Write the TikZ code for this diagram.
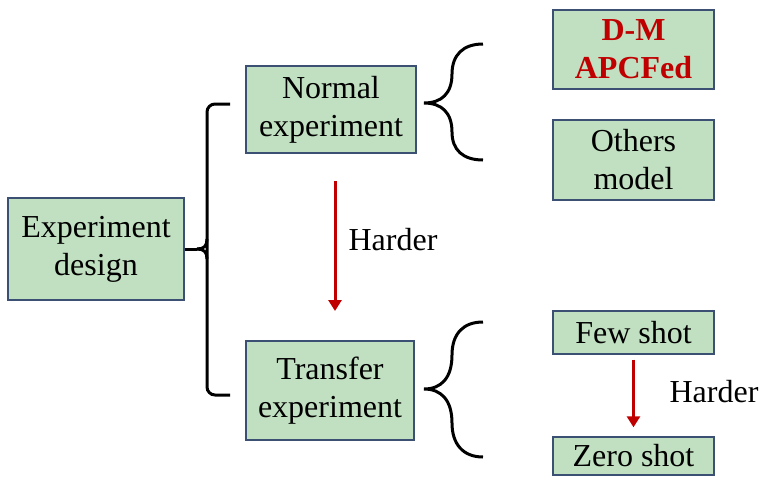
\documentclass[tikz,border=0pt]{standalone}
\usepackage{fontspec}
\setmainfont{Liberation Serif}
\usetikzlibrary{arrows.meta}
\definecolor{boxfill}{RGB}{193,223,193}
\definecolor{boxline}{RGB}{60,80,115}
\definecolor{darkred}{RGB}{192,0,0}
\begin{document}
\begin{tikzpicture}[x=1pt,y=-1pt,
  box/.style={draw=boxline, line width=1.4pt, fill=boxfill, inner sep=0pt, align=center,
              font=\fontsize{32}{38}\selectfont},
  brk/.style={line width=3pt},
  harder/.style={draw=darkred, line width=3pt, -{Triangle[width=13pt,length=11pt]}},
  lbl/.style={font=\fontsize{32}{38}\selectfont, inner sep=0pt}]
\useasboundingbox (0,0) rectangle (780,496);

% boxes
\node[box, minimum width=176pt, minimum height=102pt] (design) at (96,249) {Experiment\\design};
\node[box, minimum width=170pt, minimum height=87pt] (normal) at (331,109.5) {Normal\\experiment};
\node[box, minimum width=168pt, minimum height=99pt] (transfer) at (330,390.5) {Transfer\\experiment};
\node[box, minimum width=161pt, minimum height=79pt, text=darkred, font=\fontsize{32}{38}\selectfont\bfseries] (dm) at (633.5,49.5) {D-M\\APCFed};
\node[box, minimum width=161pt, minimum height=80pt] (others) at (633.5,160) {Others\\model};
\node[box, minimum width=161pt, minimum height=43pt] (few) at (633.5,332.5) {Few shot};
\node[box, minimum width=161pt, minimum height=38pt] (zero) at (633.5,456) {Zero shot};

% left square bracket
\coordinate (bt) at (230,104);
\coordinate (bb) at (230,395);
\coordinate (btip) at (197,249);
\draw[brk, rounded corners=8pt] (bt) -- (207,104) -- (207,395) -- (bb);
\draw[brk] (design.east) -- (btip);
\draw[brk] (btip) .. controls (204,249) and (207,246) .. (207,239);
\draw[brk] (btip) .. controls (204,249) and (207,252) .. (207,259);

% right curly braces
\coordinate (c1tip) at (424,103);
\coordinate (c1t) at (483,44);
\coordinate (c1b) at (483,160);
\draw[brk] (c1t) .. controls (463,44) and (452,55) .. (452,74)
  .. controls (452,93) and (442,103) .. (c1tip)
  .. controls (442,103) and (452,113) .. (452,132)
  .. controls (452,150) and (463,160) .. (c1b);
\coordinate (c2tip) at (424,389);
\coordinate (c2t) at (483,322);
\coordinate (c2b) at (483,457);
\draw[brk] (c2t) .. controls (463,322) and (452,334) .. (452,355)
  .. controls (452,377) and (442,389) .. (c2tip)
  .. controls (442,389) and (452,401) .. (452,423)
  .. controls (452,444) and (463,457) .. (c2b);

% harder arrows
\coordinate (a1s) at (335,181);
\coordinate (a1e) at (335,311);
\draw[harder] (a1s) -- (a1e);
\node[lbl] (h1) at (393,240) {Harder};
\draw[harder, shorten <=5pt, shorten >=9pt] (few.south) -- (zero.north);
\node[lbl] (h2) at (714,392) {Harder};
\end{tikzpicture}
\end{document}
